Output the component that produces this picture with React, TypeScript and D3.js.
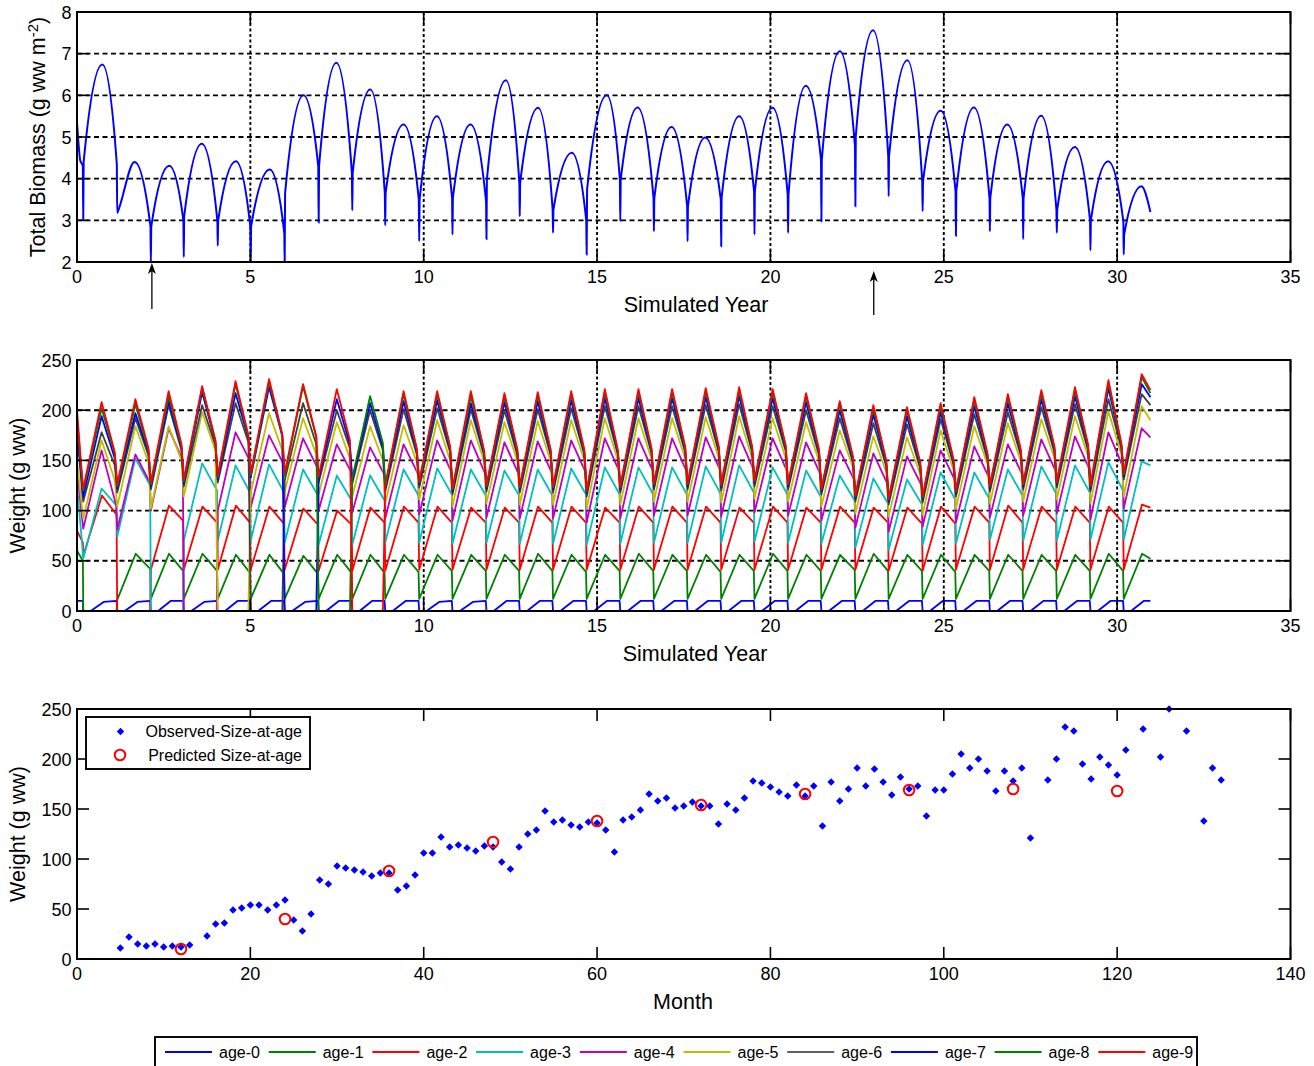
import * as d3 from "d3";

const FONT = "'Liberation Sans', Arial, Helvetica, sans-serif";
const LEFT = 77;
const RIGHT = 1290.5;

// ---------- shared time axis (simulated years) ----------
const CYCLE_START = [
  0.18, 1.16, 2.13, 3.08, 4.06, 5.01, 5.99, 6.97, 7.94, 8.89, 9.87, 10.83, 11.81, 12.77, 13.73, 14.7,
  15.67, 16.64, 17.61, 18.58, 19.54, 20.51, 21.47, 22.45, 23.41, 24.39, 25.35, 26.33, 27.29, 28.26, 29.23, 30.19,
];
const SIM_END = 30.96;

const YEAR_TICKS = [0, 5, 10, 15, 20, 25, 30, 35];
const BIO_TICKS = [2, 3, 4, 5, 6, 7, 8];
const WT_TICKS = [0, 50, 100, 150, 200, 250];
const MONTH_TICKS = [0, 20, 40, 60, 80, 100, 120, 140];

// ---------- upper panel: total biomass ----------
const BIO_INIT_YEAR = [0, 0.03, 0.09];
const BIO_INIT = [5.34, 5.0, 4.45];
const BIO_DIP_PRE = [
  4.3, 4.35, 2.86, 3.0, 3.0, 2.86, 2.7, 4.3, 4.14, 3.66, 3.5, 3.54, 3.46, 3.9, 3.26, 3.0,
  3.98, 3.54, 3.34, 3.5, 3.7, 3.62, 4.46, 4.78, 4.54, 3.94, 3.7, 3.54, 3.54, 3.26, 3.0, 2.98,
];
const BIO_DIP_LOW = [
  3.0, 3.18, 2.0, 2.12, 2.39, 2.0, 2.0, 2.95, 3.24, 2.88, 2.5, 2.66, 2.55, 3.1, 2.7, 2.18,
  2.98, 2.74, 2.5, 2.38, 2.66, 2.7, 2.98, 3.34, 3.58, 3.22, 2.63, 2.74, 2.55, 2.7, 2.28, 2.18,
];
const BIO_DIP_POST = [
  4.4, 3.2, 2.85, 3.1, 3.0, 2.85, 3.65, 4.3, 4.14, 3.66, 3.5, 3.54, 3.98, 3.9, 3.26, 3.74,
  3.98, 3.54, 3.34, 3.54, 3.7, 3.62, 4.46, 5.02, 4.54, 3.94, 3.7, 3.54, 3.54, 3.26, 3.0, 2.66,
];
const BIO_PEAK_YEAR = [
  0.73, 1.66, 2.66, 3.6, 4.58, 5.56, 6.53, 7.48, 8.46, 9.42, 10.38, 11.35, 12.37, 13.3, 14.27, 15.28,
  16.17, 17.15, 18.12, 19.1, 20.06, 21.02, 22.0, 22.96, 23.95, 24.91, 25.87, 26.83, 27.81, 28.78, 29.74, 30.7,
];
const BIO_PEAK = [
  6.74, 4.4, 4.31, 4.84, 4.42, 4.22, 6.0, 6.78, 6.14, 5.3, 5.5, 5.3, 6.36, 5.7, 4.62, 6.0,
  5.71, 5.24, 4.99, 5.5, 5.7, 6.23, 7.06, 7.56, 6.84, 5.63, 5.71, 5.3, 5.51, 4.76, 4.42, 3.82,
];
const BIO_END = 3.2;
const ARROW_YEARS = [2.16, 22.98];

// ---------- middle panel: weight by age class ----------
const AGE_NAMES = ["age-0", "age-1", "age-2", "age-3", "age-4", "age-5", "age-6", "age-7", "age-8", "age-9"];
const AGE_COLORS = ["#0000ff", "#008000", "#ff0000", "#00bfbf", "#bf00bf", "#bfbf00", "#404040", "#0000ff", "#008000", "#ff0000"];
const LEGEND_COLORS = ["#0000ff", "#008000", "#ff0000", "#00bfbf", "#bf00bf", "#bfbf00", "#606060", "#0000ff", "#008000", "#ff0000"];
const AGE_INIT = [10, 60, 80, 125, 140, 150, 178, 185, 193, 200];
const AGE_INIT_END = [10, 50, 68, 58, 85, 95, 112, 116, 121, 124];
// where in a cycle the peak and the last value before the reset sit
const PEAK_PHASE = [0.6, 0.55, 0.55, 0.54, 0.54, 0.54, 0.54, 0.54, 0.54, 0.54];
const END_PHASE = [0.98, 0.98, 0.98, 0.98, 0.97, 0.93, 0.93, 0.93, 0.93, 0.93];
const AGE0_HOLD = 0.22;

// one row per age class, one value per cycle
const AGE_START = [
  [0, 0, 0, 0, 0, 0, 0, 0, 0, 0, 0, 0, 0, 0, 0, 0, 0, 0, 0, 0, 0, 0, 0, 0, 0, 0, 0, 0, 0, 0, 0, 0],
  [0, 11, 12, 12, 12, 12, 12, 12, 12, 12, 12, 12, 12, 12, 12, 12, 12, 12, 12, 12, 12, 12, 12, 12, 12, 12, 12, 12, 12, 12, 12, 12],
  [55, 0, 41, 41, 41, 41, 41, 40, 40, 40, 41, 41, 41, 41, 41, 41, 41, 41, 41, 41, 41, 41, 41, 41, 40, 40, 41, 41, 41, 41, 41, 41],
  [52, 74, 0, 70, 70, 70, 68, 66, 66, 68, 68, 67, 68, 67, 67, 66, 67, 68, 68, 68, 69, 68, 67, 63, 61, 66, 67, 71, 70, 70, 71, 71],
  [82, 81, 100, 0, 100, 103, 103, 100, 98, 92, 96, 90, 93, 92, 92, 88, 92, 95, 95, 94, 98, 95, 90, 83, 79, 84, 88, 93, 95, 97, 91, 102],
  [92, 104, 102, 114, 0, 118, 119, 116, 114, 107, 111, 104, 107, 106, 106, 102, 106, 109, 109, 108, 112, 109, 104, 97, 94, 96, 102, 107, 109, 111, 107, 114],
  [109, 118, 121, 124, 128, 0, 130, 128, 127, 119, 123, 116, 119, 118, 118, 114, 118, 121, 121, 120, 124, 121, 116, 109, 106, 108, 114, 119, 121, 123, 119, 131],
  [114, 122, 124, 127, 131, 133, 0, 131, 130, 122, 126, 119, 122, 121, 121, 117, 121, 124, 124, 123, 127, 124, 119, 112, 109, 111, 117, 122, 124, 126, 122, 134],
  [120, 124, 126, 129, 133, 135, 135, 0, 132, 124, 128, 121, 124, 123, 123, 119, 123, 126, 126, 125, 129, 126, 121, 114, 111, 113, 119, 124, 126, 128, 124, 136],
  [122, 126, 128, 131, 135, 137, 137, 134, 0, 125, 129, 122, 125, 124, 124, 120, 124, 127, 127, 126, 130, 127, 122, 115, 112, 114, 120, 125, 127, 129, 125, 137],
];
const AGE_PEAK = [
  [9, 9, 10, 9, 10, 10, 9, 10, 10, 10, 9, 9, 10, 10, 10, 10, 10, 10, 10, 10, 10, 10, 10, 10, 10, 10, 10, 10, 10, 10, 10, 10],
  [0, 57, 57, 57, 56, 56, 55, 56, 56, 56, 56, 56, 56, 57, 56, 56, 57, 56, 56, 56, 57, 56, 56, 57, 56, 56, 56, 56, 56, 56, 57, 57],
  [115, 0, 105, 104, 105, 104, 102, 100, 103, 104, 104, 103, 103, 104, 104, 103, 104, 104, 104, 103, 104, 103, 104, 103, 103, 104, 104, 105, 104, 104, 104, 106],
  [122, 152, 0, 147, 145, 146, 141, 135, 135, 141, 142, 141, 140, 141, 142, 143, 143, 143, 144, 145, 143, 140, 135, 132, 131, 138, 138, 141, 144, 145, 148, 149],
  [160, 156, 182, 0, 178, 175, 172, 166, 163, 166, 170, 170, 168, 169, 170, 172, 172, 172, 173, 174, 172, 168, 160, 157, 154, 160, 164, 166, 171, 174, 178, 182],
  [170, 184, 184, 198, 0, 197, 192, 188, 184, 185, 190, 190, 188, 189, 190, 192, 192, 192, 193, 194, 192, 188, 180, 174, 173, 180, 184, 187, 191, 194, 199, 204],
  [178, 192, 205, 205, 207, 0, 207, 200, 200, 201, 202, 201, 200, 201, 202, 204, 204, 204, 205, 206, 204, 200, 192, 187, 186, 191, 196, 198, 203, 206, 211, 216],
  [194, 197, 209, 218, 217, 223, 0, 211, 207, 209, 210, 207, 208, 209, 210, 212, 212, 212, 213, 214, 212, 208, 200, 196, 194, 198, 204, 207, 211, 214, 222, 226],
  [202, 206, 214, 222, 226, 228, 224, 0, 214, 216, 216, 214, 214, 215, 216, 218, 218, 218, 219, 220, 218, 214, 206, 202, 200, 204, 210, 213, 217, 220, 227, 233],
  [208, 211, 219, 224, 229, 231, 226, 221, 0, 219, 219, 219, 217, 218, 219, 221, 221, 221, 222, 223, 221, 217, 209, 205, 203, 207, 213, 216, 220, 223, 230, 236],
];
const AGE_END = [
  [10, 10, 10, 10, 10, 10, 10, 10, 10, 10, 10, 10, 10, 10, 10, 10, 10, 10, 10, 10, 10, 10, 10, 10, 10, 10, 10, 10, 10, 10, 10, 10],
  [0, 42, 40, 40, 38, 37, 37, 38, 38, 39, 40, 40, 40, 40, 39, 40, 40, 40, 39, 40, 40, 40, 41, 40, 40, 39, 40, 40, 40, 40, 40, 52],
  [96, 0, 90, 88, 88, 87, 86, 86, 88, 88, 88, 88, 88, 88, 88, 88, 88, 88, 88, 88, 88, 88, 88, 88, 87, 87, 88, 88, 88, 88, 88, 103],
  [105, 125, 0, 120, 118, 118, 115, 110, 110, 115, 116, 115, 115, 115, 116, 116, 116, 116, 117, 118, 116, 114, 110, 107, 106, 111, 112, 115, 117, 118, 120, 145],
  [105, 128, 150, 0, 150, 146, 142, 138, 136, 136, 138, 136, 136, 137, 138, 139, 139, 139, 140, 141, 139, 136, 130, 126, 125, 130, 133, 136, 139, 141, 144, 173],
  [130, 148, 150, 160, 0, 160, 156, 152, 150, 148, 150, 149, 149, 149, 150, 150, 151, 152, 152, 152, 152, 149, 143, 138, 136, 140, 146, 149, 152, 154, 156, 190],
  [145, 155, 160, 165, 168, 0, 166, 162, 160, 156, 158, 155, 155, 155, 156, 156, 157, 158, 158, 158, 159, 155, 148, 144, 142, 146, 151, 155, 158, 160, 162, 205],
  [152, 158, 162, 168, 172, 174, 0, 166, 163, 158, 160, 157, 157, 157, 157, 156, 158, 160, 160, 160, 161, 157, 150, 146, 144, 147, 153, 157, 160, 162, 164, 213],
  [156, 160, 164, 169, 173, 175, 173, 0, 167, 160, 162, 159, 159, 159, 159, 158, 160, 162, 162, 162, 163, 159, 152, 148, 146, 149, 155, 159, 162, 164, 165, 217],
  [158, 162, 166, 170, 175, 176, 174, 170, 0, 162, 164, 160, 161, 161, 161, 160, 162, 164, 164, 164, 165, 161, 154, 150, 148, 151, 157, 161, 164, 166, 167, 220],
];

// ---------- lower panel: size at age ----------
const OBS_MONTH = [
  5, 6, 7, 8, 9, 10, 11, 12, 13, 15, 16, 17, 18, 19, 20, 21, 22, 23, 24, 25, 26, 27, 28, 29, 30, 31, 32, 33, 34, 35, 36, 37, 38, 39,
  40, 41, 42, 43, 44, 45, 46, 47, 48, 49, 50, 51, 52, 53, 54, 55, 56, 57, 58, 59, 60, 61, 62, 63, 64, 65, 66, 67, 68, 69, 70, 71,
  72, 73, 74, 75, 76, 77, 78, 79, 80, 81, 82, 83, 84, 85, 86, 87, 88, 89, 90, 91, 92, 93, 94, 95, 96, 97, 98, 99, 100, 101, 102,
  103, 104, 105, 106, 107, 108, 109, 110, 112, 113, 114, 115, 116, 117, 118, 119, 120, 121, 123, 125, 126, 128, 130, 131, 132,
];
const OBS_WEIGHT = [
  11, 22, 15, 13, 15, 12, 13, 12, 14, 23, 35, 36, 49, 51, 54, 54, 49, 54, 59, 39, 28, 45, 79, 75, 93, 91, 89, 87, 83, 86, 86, 69, 73, 84,
  106, 106, 122, 112, 114, 111, 108, 113, 112, 97, 90, 112, 125, 129, 148, 137, 139, 134, 132, 137, 136, 129, 107, 139, 142, 149, 165, 158, 161, 151, 153, 157,
  153, 153, 135, 155, 149, 161, 178, 176, 172, 167, 163, 174, 163, 173, 133, 177, 158, 170, 191, 173, 190, 177, 164, 182, 170, 173, 143, 169, 169, 185, 205,
  191, 200, 188, 168, 188, 178, 191, 121, 179, 200, 232, 228, 195, 180, 202, 194, 184, 209, 230, 202, 250, 228, 138, 191, 179,
];
const PRED_MONTH = [12, 24, 36, 48, 60, 72, 84, 96, 108, 120];
const PRED_WEIGHT = [10, 40, 88, 117, 138, 154, 165, 169, 170, 168];

type Pt = [number, number];

function biomassPoints(): Pt[] {
  const pts: Pt[] = BIO_INIT_YEAR.map((t, i) => [t, BIO_INIT[i]] as Pt);
  CYCLE_START.forEach((t, k) => {
    pts.push([t - 0.012, BIO_DIP_PRE[k]], [t, BIO_DIP_LOW[k]], [t + 0.012, BIO_DIP_POST[k]]);
    pts.push([BIO_PEAK_YEAR[k], BIO_PEAK[k]]);
  });
  pts.push([SIM_END, BIO_END]);
  return pts;
}

function agePoints(a: number): Pt[] {
  const pts: Pt[] = [
    [0, AGE_INIT[a]],
    [CYCLE_START[0] - 0.01, AGE_INIT_END[a]],
  ];
  const n = CYCLE_START.length;
  CYCLE_START.forEach((t, k) => {
    const last = k === n - 1;
    const len = last ? t - CYCLE_START[k - 1] : CYCLE_START[k + 1] - t;
    pts.push([t, AGE_START[a][k]]);
    if (a === 0) pts.push([t + AGE0_HOLD * len, AGE_START[a][k]]);
    pts.push([t + PEAK_PHASE[a] * len, AGE_PEAK[a][k]]);
    pts.push([last ? SIM_END : t + END_PHASE[a] * len, AGE_END[a][k]]);
  });
  return pts;
}

function Axes({
  x,
  y,
  xTicks,
  yTicks,
  grid,
  xLabel,
  xLabelX,
  yLabel,
  yLabelX,
  children,
}: {
  x: d3.ScaleLinear<number, number>;
  y: d3.ScaleLinear<number, number>;
  xTicks: number[];
  yTicks: number[];
  grid: boolean;
  xLabel: string;
  xLabelX: number;
  yLabel: React.ReactNode;
  yLabelX: number;
  children?: React.ReactNode;
}) {
  const [xl, xr] = x.range();
  const [yb, yt] = y.range();
  const tl = 12;
  return (
    <g fontFamily={FONT}>
      {grid &&
        yTicks.slice(1, -1).map((t) => (
          <line key={`gh-${t}`} x1={xl} x2={xr} y1={y(t)} y2={y(t)} stroke="#000" strokeWidth={1.9} strokeDasharray="5 3.5" />
        ))}
      {grid &&
        xTicks.slice(1, -1).map((t) => (
          <line key={`gv-${t}`} x1={x(t)} x2={x(t)} y1={yt} y2={yb} stroke="#000" strokeWidth={1.9} strokeDasharray="3 2.5" />
        ))}
      {children}
      {xTicks.map((t) => (
        <g key={`xt-${t}`}>
          <line x1={x(t)} x2={x(t)} y1={yb} y2={yb - tl} stroke="#000" strokeWidth={1.6} />
          <line x1={x(t)} x2={x(t)} y1={yt} y2={yt + tl} stroke="#000" strokeWidth={1.6} />
          <text x={x(t)} y={yb + 21} textAnchor="middle" fontSize={18} fill="#000">
            {t}
          </text>
        </g>
      ))}
      {yTicks.map((t) => (
        <g key={`yt-${t}`}>
          <line x1={xl} x2={xl + tl} y1={y(t)} y2={y(t)} stroke="#000" strokeWidth={1.6} />
          <line x1={xr} x2={xr - tl} y1={y(t)} y2={y(t)} stroke="#000" strokeWidth={1.6} />
          <text x={xl - 5.5} y={y(t) + 6.5} textAnchor="end" fontSize={18} fill="#000">
            {t}
          </text>
        </g>
      ))}
      <rect x={xl} y={yt} width={xr - xl} height={yb - yt} fill="none" stroke="#000" strokeWidth={2} />
      <text x={xLabelX} y={yb + 50} textAnchor="middle" fontSize={21.5} fill="#000">
        {xLabel}
      </text>
      <text
        transform={`translate(${yLabelX},${(yb + yt) / 2}) rotate(-90)`}
        textAnchor="middle"
        fontSize={21.5}
        fill="#000"
      >
        {yLabel}
      </text>
    </g>
  );
}

export default function App() {
  const xYear = d3.scaleLinear().domain([0, 35]).range([LEFT, RIGHT]);
  const yBio = d3.scaleLinear().domain([2, 8]).range([262, 12]);
  const yWt = d3.scaleLinear().domain([0, 250]).range([611, 360]);
  const xMon = d3.scaleLinear().domain([0, 140]).range([LEFT, RIGHT]);
  const yObs = d3.scaleLinear().domain([0, 250]).range([959, 709]);

  const bioLine = d3
    .line<Pt>()
    .x((d) => xYear(d[0]))
    .y((d) => yBio(d[1]))
    .curve(d3.curveMonotoneX);
  const ageLine = d3
    .line<Pt>()
    .x((d) => xYear(d[0]))
    .y((d) => yWt(d[1]));

  const diamond = d3.symbol(d3.symbolSquare, 28)() ?? "";

  // bottom legend layout
  const legX0 = 165;
  const legStep = 103.7;

  return (
    <>
      <style>{"body{margin:0;background:#fff}"}</style>
      <svg width={1314} height={1066} style={{ display: "block" }}>
        <rect width={1314} height={1066} fill="#fff" />

        {/* upper panel */}
        <Axes
          x={xYear}
          y={yBio}
          xTicks={YEAR_TICKS}
          yTicks={BIO_TICKS}
          grid
          xLabel="Simulated Year"
          xLabelX={696}
          yLabelX={45}
          yLabel={
            <>
              Total Biomass (g ww m
              <tspan dy={-7} fontSize={15}>
                -2
              </tspan>
              <tspan dy={7}>)</tspan>
            </>
          }
        >
          <path d={bioLine(biomassPoints()) ?? ""} fill="none" stroke="#0000ff" strokeWidth={2} />
        </Axes>
        {ARROW_YEARS.map((yr, i) => {
          const ax = xYear(yr);
          const tip = i === 0 ? 263 : 271;
          const tail = i === 0 ? 309 : 315;
          return (
            <g key={`arr-${i}`}>
              <line x1={ax} x2={ax} y1={tail} y2={tip + 4} stroke="#000" strokeWidth={1.3} />
              <path d={`M${ax},${tip} L${ax - 4},${tip + 11} L${ax},${tip + 8} L${ax + 4},${tip + 11} Z`} fill="#000" />
            </g>
          );
        })}

        {/* middle panel */}
        <Axes
          x={xYear}
          y={yWt}
          xTicks={YEAR_TICKS}
          yTicks={WT_TICKS}
          grid
          xLabel="Simulated Year"
          xLabelX={695}
          yLabelX={25}
          yLabel="Weight (g ww)"
        >
          {AGE_NAMES.map((name, a) => (
            <path key={name} d={ageLine(agePoints(a)) ?? ""} fill="none" stroke={AGE_COLORS[a]} strokeWidth={1.8} strokeLinejoin="round" />
          ))}
        </Axes>

        {/* lower panel */}
        <Axes
          x={xMon}
          y={yObs}
          xTicks={MONTH_TICKS}
          yTicks={WT_TICKS}
          grid={false}
          xLabel="Month"
          xLabelX={683}
          yLabelX={25}
          yLabel="Weight (g ww)"
        >
          {OBS_MONTH.map((m, i) => (
            <path
              key={`o-${i}`}
              d={diamond}
              transform={`translate(${xMon(m)},${yObs(OBS_WEIGHT[i])}) rotate(45)`}
              fill="#0000ff"
            />
          ))}
          {PRED_MONTH.map((m, i) => (
            <circle key={`p-${i}`} cx={xMon(m)} cy={yObs(PRED_WEIGHT[i])} r={5.3} fill="none" stroke="#ff0000" strokeWidth={2} />
          ))}
        </Axes>

        {/* scatter legend */}
        <g fontFamily={FONT} fontSize={16}>
          <rect x={86} y={717} width={224} height={52} fill="#fff" stroke="#000" strokeWidth={1.9} />
          <path d={diamond} transform="translate(120.5,731.5) rotate(45)" fill="#0000ff" />
          <text x={302} y={737} textAnchor="end">
            Observed-Size-at-age
          </text>
          <circle cx={120} cy={755} r={5.3} fill="none" stroke="#ff0000" strokeWidth={2} />
          <text x={302} y={760.5} textAnchor="end">
            Predicted Size-at-age
          </text>
        </g>

        {/* age legend */}
        <g fontFamily={FONT} fontSize={16}>
          <rect x={155} y={1037} width={1042} height={45} fill="#fff" stroke="#000" strokeWidth={1.9} />
          {AGE_NAMES.map((name, a) => {
            const lx = legX0 + a * legStep;
            return (
              <g key={`leg-${name}`}>
                <line x1={lx} x2={lx + 47} y1={1052} y2={1052} stroke={LEGEND_COLORS[a]} strokeWidth={1.8} />
                <text x={lx + 54} y={1057.5}>
                  {name}
                </text>
              </g>
            );
          })}
        </g>
      </svg>
    </>
  );
}
